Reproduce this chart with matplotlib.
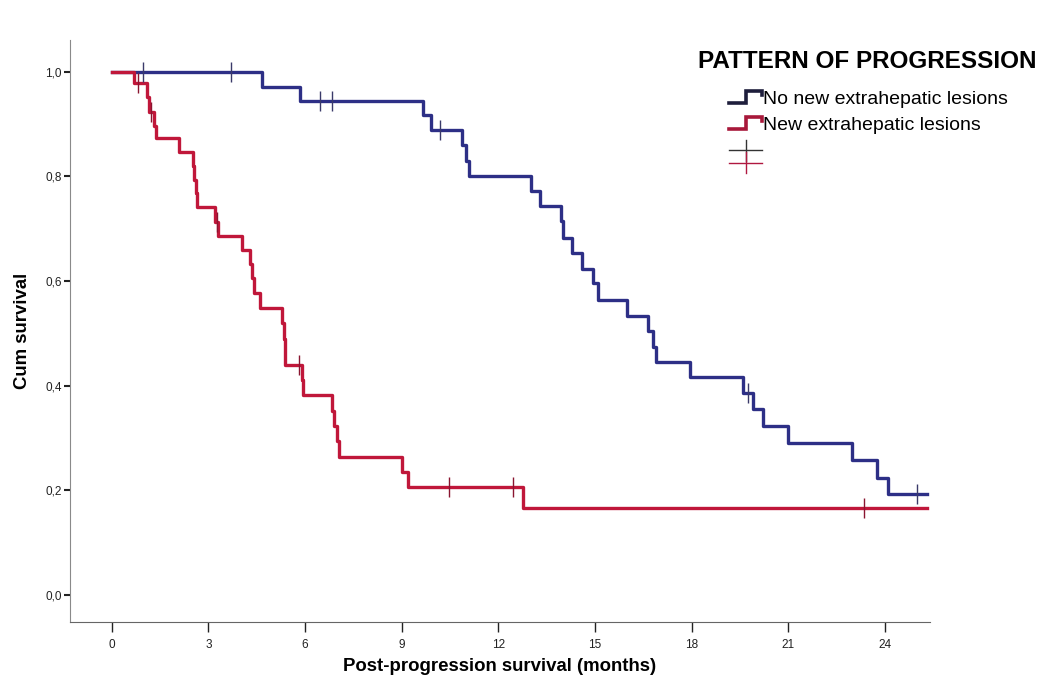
import numpy as np
import matplotlib
matplotlib.use("Agg")
import matplotlib.pyplot as plt
from matplotlib.lines import Line2D
from matplotlib.legend_handler import HandlerBase

plt.rcParams['font.family'] = ['Liberation Sans', 'DejaVu Sans']

# Kaplan-Meier steps (months, cumulative survival)
t_no_new = [0, 4.66, 5.84, 9.66, 9.9, 10.87, 11.0, 11.08, 13.0, 13.3, 13.95, 14.0,
            14.3, 14.6, 14.95, 15.1, 16.0, 16.65, 16.8, 16.9, 17.95, 19.6, 19.9,
            20.2, 21.0, 22.98, 23.75, 24.1, 25.3]
s_no_new = [1.0, 0.972, 0.945, 0.917, 0.889, 0.86, 0.83, 0.80, 0.772, 0.744, 0.714, 0.683,
            0.654, 0.623, 0.597, 0.564, 0.533, 0.505, 0.474, 0.445, 0.417, 0.386, 0.356,
            0.323, 0.291, 0.258, 0.224, 0.193, 0.193]
cens_no_new = [0.96, 3.7, 6.46, 6.83, 10.2, 19.75, 25.0]

t_new = [0, 0.68, 1.09, 1.15, 1.3, 1.38, 2.08, 2.52, 2.56, 2.6, 2.63, 3.2, 3.3, 4.05,
         4.3, 4.35, 4.4, 4.6, 5.28, 5.33, 5.38, 5.9, 5.93, 6.83, 6.9, 6.98, 7.05,
         9.0, 9.2, 12.76, 25.3]
s_new = [1.0, 0.979, 0.951, 0.923, 0.896, 0.874, 0.847, 0.82, 0.794, 0.768, 0.742, 0.713, 0.686, 0.66,
         0.632, 0.605, 0.577, 0.549, 0.52, 0.49, 0.44, 0.411, 0.382, 0.352, 0.323, 0.294, 0.264,
         0.235, 0.206, 0.166, 0.166]
cens_new = [0.8, 1.22, 3.25, 5.8, 10.47, 12.45, 23.35]

x_ticks = [0, 3, 6, 9, 12, 15, 18, 21, 24]
y_ticks = [0.0, 0.2, 0.4, 0.6, 0.8, 1.0]
y_tick_labels = ['0,0', '0,2', '0,4', '0,6', '0,8', '1,0']
group_labels = ['No new extrahepatic lesions', 'New extrahepatic lesions']

blue = '#2d2f86'
red = '#c0173a'


def surv_at(times, surv, t):
    i = np.searchsorted(times, t, side='right') - 1
    return np.array(surv)[i]


class StepHandler(HandlerBase):
    def create_artists(self, legend, orig_handle, xdescent, ydescent, width, height, fontsize, trans):
        x0 = -xdescent
        cy = -ydescent + height / 2
        lo, hi = cy - 0.3 * fontsize, cy + 0.3 * fontsize
        xs = [x0, x0 + 0.5 * width, x0 + 0.5 * width, x0 + width, x0 + width]
        ys = [lo, lo, hi, hi, hi - 0.2 * fontsize]
        ln = Line2D(xs, ys, color=orig_handle.get_color(), lw=2.6, solid_joinstyle='miter', transform=trans)
        return [ln]


class CensorPairHandler(HandlerBase):
    # both censor crosses share one legend row, the second one sits a bit lower
    def create_artists(self, legend, orig_handle, xdescent, ydescent, width, height, fontsize, trans):
        x0 = -xdescent
        cy = -ydescent + height / 2
        arts = []
        for k, c in enumerate(['#333333', '#b01840']):
            yc = cy - 0.1 * fontsize - k * 0.62 * fontsize
            arts.append(Line2D([x0, x0 + width], [yc, yc], color=c, lw=1.0, transform=trans))
            arts.append(Line2D([x0 + 0.5 * width] * 2, [yc - 0.55 * fontsize, yc + 0.55 * fontsize],
                               color=c, lw=1.0, transform=trans))
        return arts


fig = plt.figure(figsize=(10.43, 6.88), dpi=100)
ax = fig.add_axes([0.0671, 0.0959, 0.8246, 0.846])

ax.step(t_no_new, s_no_new, where='post', color=blue, lw=2.4)
ax.step(t_new, s_new, where='post', color=red, lw=2.4)

ax.plot(cens_no_new, surv_at(t_no_new, s_no_new, cens_no_new), ls='none', marker='|',
        markersize=15, mew=1.0, color='#3a3a6a')
ax.plot(cens_new, surv_at(t_new, s_new, cens_new), ls='none', marker='|',
        markersize=15, mew=1.0, color='#8a1530')

ax.set_xlim(-1.3, 25.4)
ax.set_ylim(-0.052, 1.061)
ax.set_xticks(x_ticks)
ax.set_yticks(y_ticks)
ax.set_yticklabels(y_tick_labels)
ax.tick_params(axis='both', labelsize=8.5, colors='#222222', direction='out')
ax.tick_params(axis='x', length=7, width=1, pad=5)
ax.tick_params(axis='y', length=4, width=1.5, pad=2)
for side in ['top', 'right']:
    ax.spines[side].set_visible(False)
ax.spines['left'].set_color('#8a8a8a')
ax.spines['bottom'].set_color('#666666')

ax.set_xlabel('Post-progression survival (months)', fontsize=13.4, fontweight='bold', labelpad=5)
ax.set_ylabel('Cum survival', fontsize=13.4, fontweight='bold', labelpad=10)

fig.text(867 / 1043, 1 - 62 / 688, 'PATTERN OF PROGRESSION', fontsize=17.5,
         fontweight='bold', ha='center', va='center')

handles = [Line2D([], [], color='#1e1e3c'), Line2D([], [], color='#a8183a'), Line2D([], [])]
hmap = {handles[0]: StepHandler(), handles[1]: StepHandler(), handles[2]: CensorPairHandler()}
leg = fig.legend(handles, group_labels + [''],
                 handler_map=hmap, loc='upper left', bbox_to_anchor=(729 / 1043, 1 - 91 / 688),
                 frameon=False, fontsize=14, borderpad=0, borderaxespad=0,
                 handlelength=1.7, handletextpad=0.05, labelspacing=0.45,
                 handleheight=0.4)

fig.savefig('out.png', dpi=100, facecolor='white')
